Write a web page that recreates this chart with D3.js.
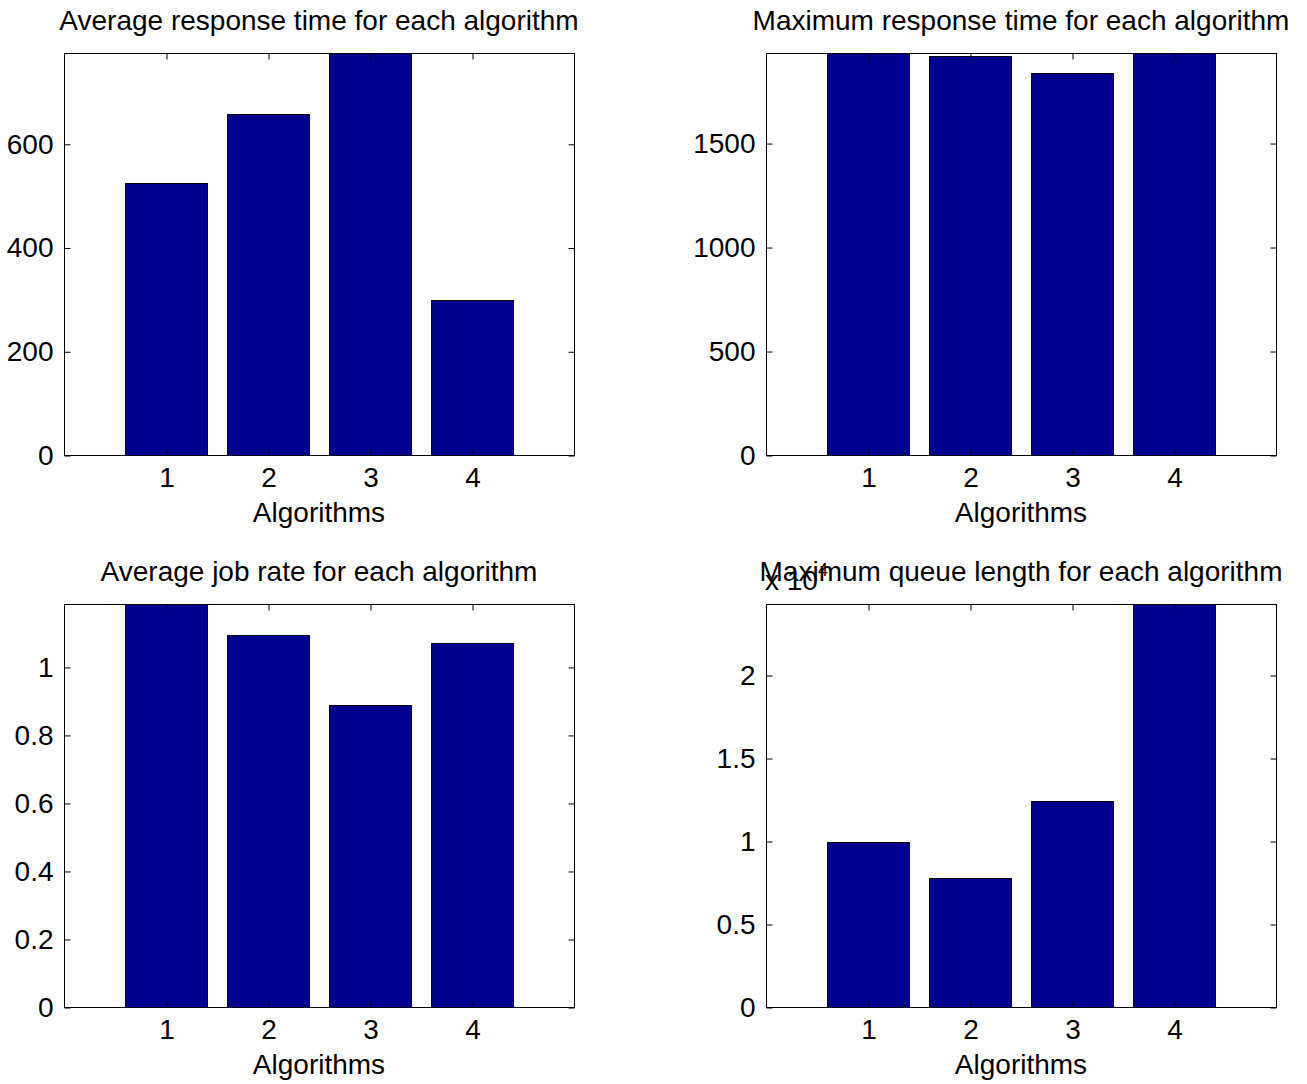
<!DOCTYPE html>
<html>
<head>
<meta charset="utf-8">
<script src="https://cdn.jsdelivr.net/npm/d3@7"></script>
<style>
  html, body { margin: 0; padding: 0; background: #fff; }
  svg { display: block; }
  text { font-family: "Liberation Sans", Arial, Helvetica, sans-serif; fill: #000; }
</style>
</head>
<body>
<svg id="fig" width="1307" height="1084"></svg>
<script>
// Algorithms compared in every panel
const algorithms = [1, 2, 3, 4];

// Panel values, one per algorithm
const avgResponseTime = [525, 658, 775, 299];
const maxResponseTime = [1933, 1918, 1837, 1933];
const avgJobRate = [1.185, 1.094, 0.888, 1.071];
const maxQueueLength = [9940, 7770, 12410, 24280];

// Y tick values per panel
const avgResponseTicks = [0, 200, 400, 600];
const maxResponseTicks = [0, 500, 1000, 1500];
const jobRateTicks = [0, 0.2, 0.4, 0.6, 0.8, 1];
const queueTicks = [0, 5000, 10000, 15000, 20000];

// Titles
const titles = [
  "Average response time for each algorithm",
  "Maximum response time for each algorithm",
  "Average job rate for each algorithm",
  "Maximum queue length for each algorithm"
];
const xLabel = "Algorithms";

const BAR_FILL = "#00008F";
const FONT = 28;
const TICK = 6;

const svg = d3.select("#fig");

function panel(opts) {
  const { left, top, width, height, values, ticks, title, scale } = opts;
  const g = svg.append("g").attr("transform", `translate(${left},${top})`);

  const x = d3.scaleLinear().domain([0, 5]).range([0, width]);
  const y = d3.scaleLinear().domain([0, d3.max(values)]).range([height, 0]);

  // white plot area
  g.append("rect").attr("x", 0.5).attr("y", 0.5)
    .attr("width", width).attr("height", height).attr("fill", "#fff");

  // bars
  g.selectAll("rect.bar").data(algorithms).enter().append("rect")
    .attr("class", "bar")
    .attr("x", d => Math.round(x(d - 0.4)) + 0.5)
    .attr("y", (d, i) => Math.round(y(values[i])) + 0.5)
    .attr("width", d => Math.round(x(d + 0.4)) - Math.round(x(d - 0.4)))
    .attr("height", (d, i) => Math.round(y(0)) - Math.round(y(values[i])))
    .attr("fill", BAR_FILL)
    .attr("stroke", "#000")
    .attr("stroke-width", 1);

  const fmt = scale ? (v => String(+(v / scale).toFixed(2))) : (v => String(v));

  // left axis with labels, ticks pointing inward
  const ax = g.append("g").attr("transform", "translate(0.5,0.5)")
    .call(d3.axisLeft(y).tickValues(ticks).tickFormat(fmt)
      .tickSizeInner(-TICK).tickSizeOuter(0).tickPadding(11));
  // right ticks
  const ar = g.append("g").attr("transform", `translate(${width + 0.5},0.5)`)
    .call(d3.axisRight(y).tickValues(ticks).tickFormat("")
      .tickSizeInner(-TICK).tickSizeOuter(0));
  // bottom axis with labels
  const ab = g.append("g").attr("transform", `translate(0.5,${height + 0.5})`)
    .call(d3.axisBottom(x).tickValues(algorithms).tickFormat(d3.format("d"))
      .tickSizeInner(-TICK).tickSizeOuter(0).tickPadding(12));
  // top ticks
  const at = g.append("g").attr("transform", "translate(0.5,0.5)")
    .call(d3.axisTop(x).tickValues(algorithms).tickFormat("")
      .tickSizeInner(-TICK).tickSizeOuter(0));

  [ax, ar, ab, at].forEach(a => {
    a.select(".domain").remove();
    a.selectAll("line").attr("stroke", "#000");
    a.selectAll("text").attr("font-size", FONT)
      .attr("font-family", '"Liberation Sans", Arial, sans-serif').attr("fill", "#000");
  });

  // axes box
  g.append("rect").attr("x", 0.5).attr("y", 0.5)
    .attr("width", width).attr("height", height)
    .attr("fill", "none").attr("stroke", "#000").attr("stroke-width", 1);

  // x label
  g.append("text").attr("x", width / 2).attr("y", height + 67)
    .attr("text-anchor", "middle").attr("font-size", FONT).text(xLabel);

  // exponent marker
  if (scale) {
    const t = g.append("text").attr("x", -1).attr("y", -14).attr("font-size", FONT);
    t.append("tspan").text("x 10");
    t.append("tspan").attr("font-size", 18).attr("dy", -14).text(String(Math.log10(scale)));
  }

  // title
  g.append("text").attr("x", width / 2).attr("y", -23)
    .attr("text-anchor", "middle").attr("font-size", FONT).text(title);
}

const W = 510, H = 402;
panel({ left: 64, top: 53, width: W, height: H, values: avgResponseTime, ticks: avgResponseTicks, title: titles[0] });
panel({ left: 766, top: 53, width: W, height: H, values: maxResponseTime, ticks: maxResponseTicks, title: titles[1] });
panel({ left: 64, top: 604, width: W, height: 403, values: avgJobRate, ticks: jobRateTicks, title: titles[2] });
panel({ left: 766, top: 604, width: W, height: 403, values: maxQueueLength, ticks: queueTicks, title: titles[3], scale: 10000 });
</script>
</body>
</html>
